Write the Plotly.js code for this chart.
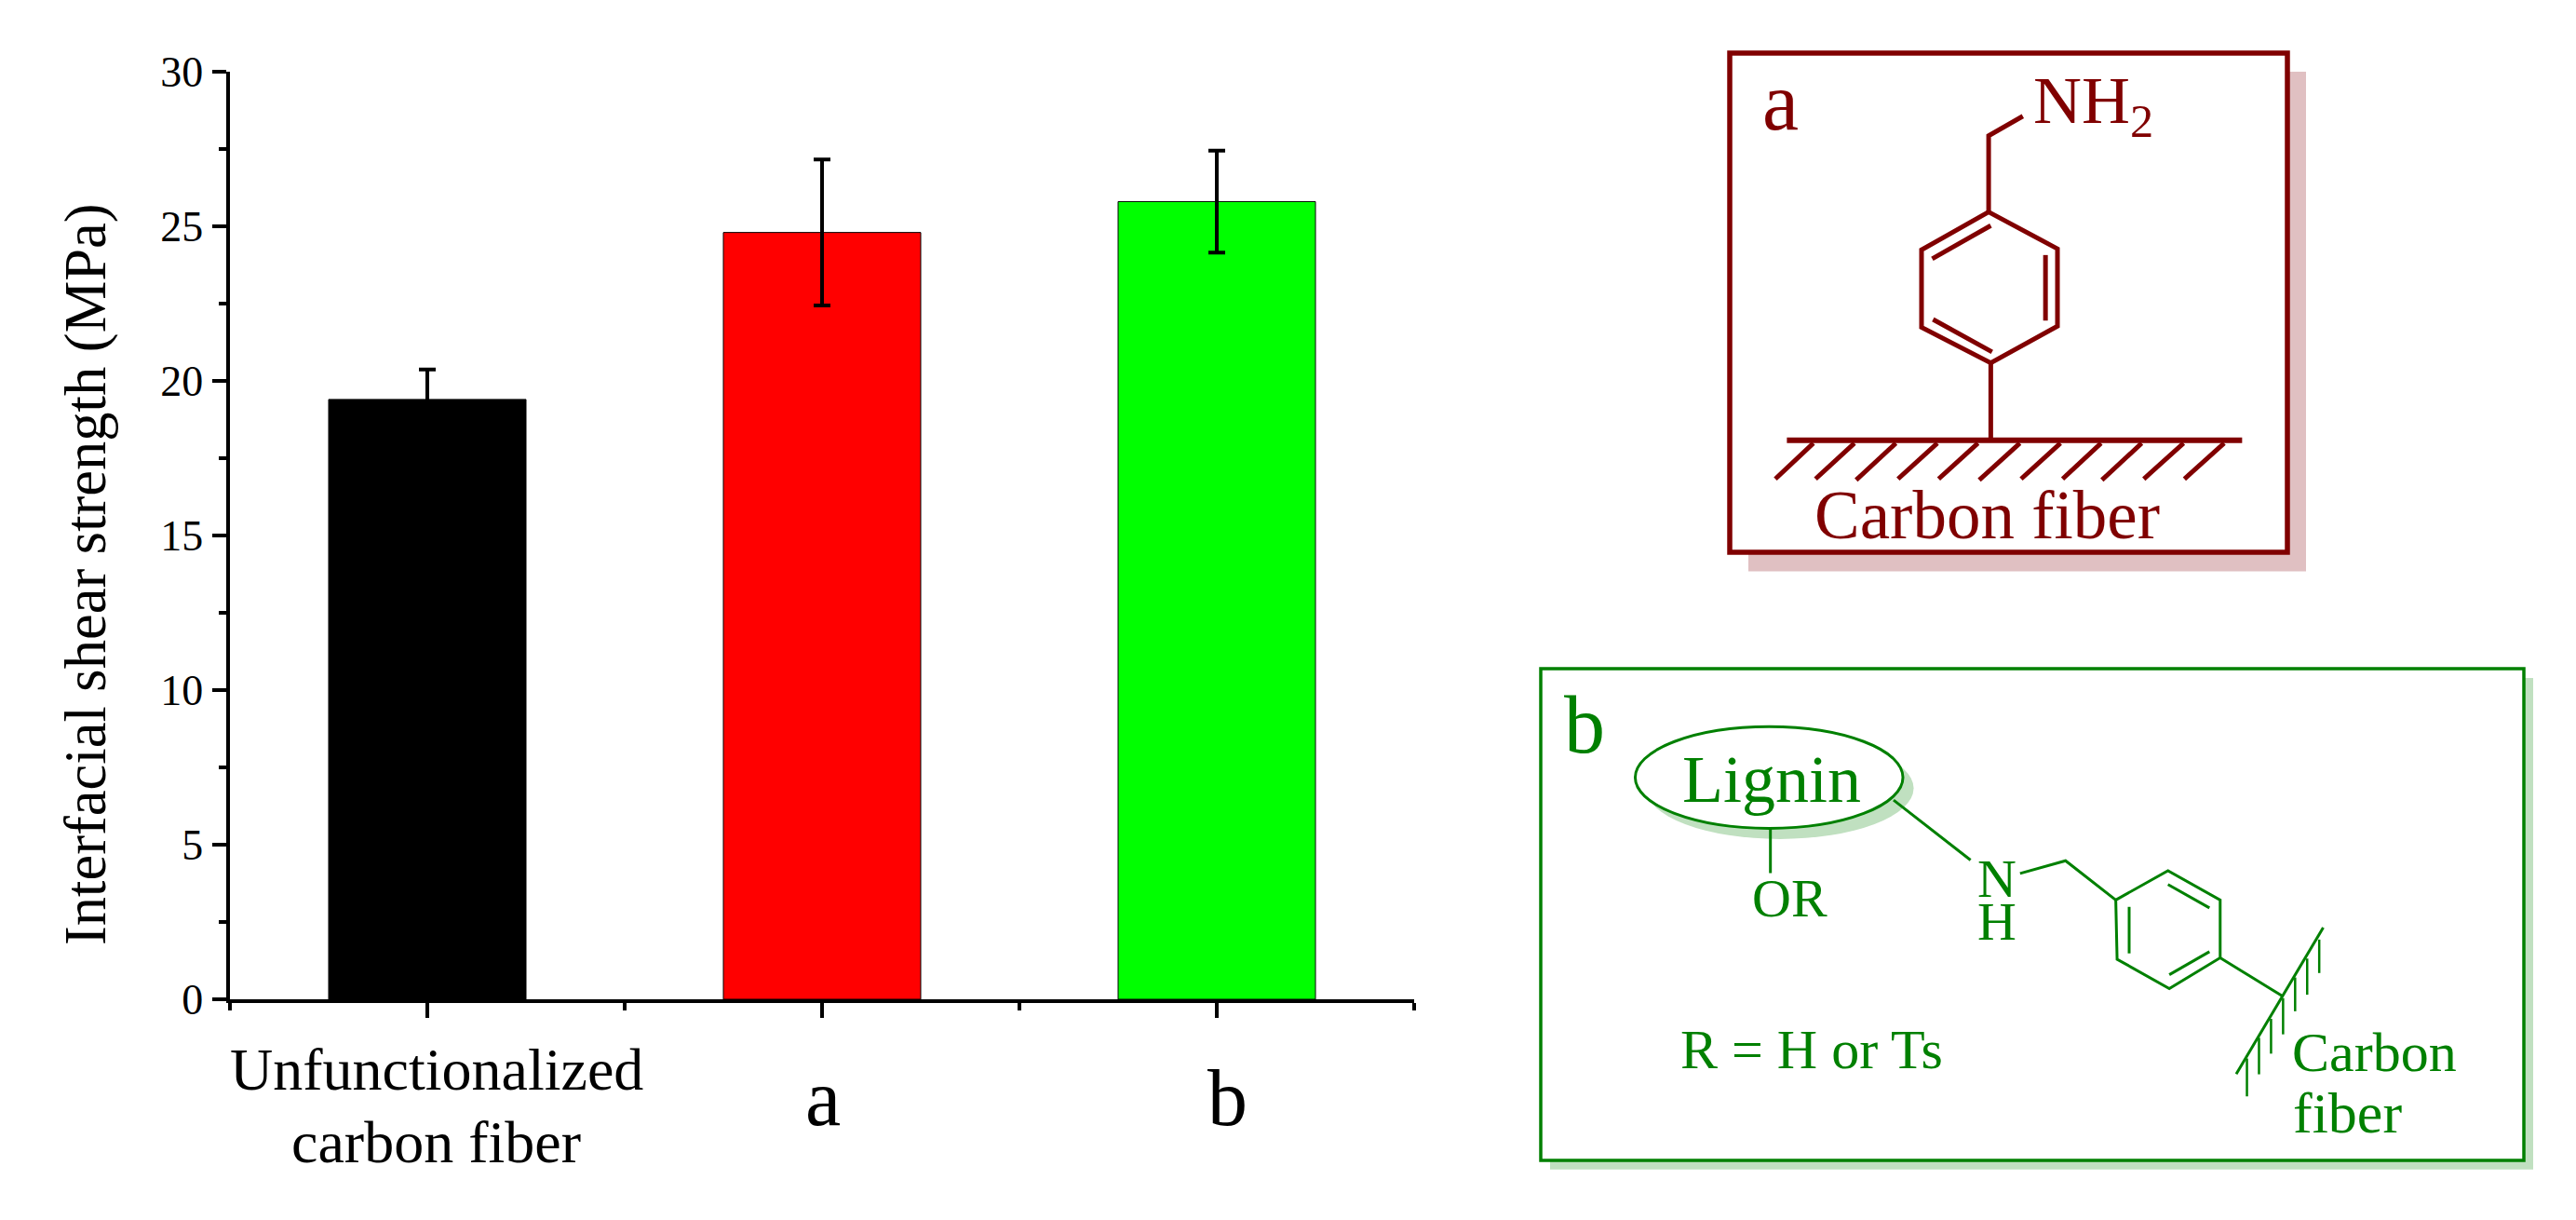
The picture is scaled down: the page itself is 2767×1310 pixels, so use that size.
<!DOCTYPE html>
<html><head><meta charset="utf-8">
<script src="https://cdn.plot.ly/plotly-3.0.1.min.js"></script>
<style>html,body{margin:0;padding:0;background:#fff;overflow:hidden}#c{width:2767px;height:1310px}</style>
</head><body><div id="c"></div>
<script>
const categories=[1,2,3];
const values=[19.4,24.8,25.8];
const errors=[0.97,2.36,1.65];
const barColors=['#000000','#ff0000','#00ff00'];
const yTicks=[0,5,10,15,20,25,30];
const W=2767,H=1310,FONT='"Liberation Serif"';
const RED='#800000',REDS='#e0c0c2',GRN='#008000',GRNS='#c0e0c0';
const fx=p=>p/W, fy=p=>1-p/H;
const shapes=[];
function rect(x0,y0,x1,y1,fill,line,w){shapes.push({type:'rect',xref:'paper',yref:'paper',x0:fx(x0),x1:fx(x1),y0:fy(y0),y1:fy(y1),fillcolor:fill,line:{color:line||fill,width:w||0}});}
function oval(x0,y0,x1,y1,fill,line,w){shapes.push({type:'circle',xref:'paper',yref:'paper',x0:fx(x0),x1:fx(x1),y0:fy(y0),y1:fy(y1),fillcolor:fill,line:{color:line||fill,width:w||0}});}
function poly(pts,color,w,close){const d=pts.map((p,i)=>(i?'L':'M')+fx(p[0])+','+fy(p[1])).join(' ')+(close?' Z':'');shapes.push({type:'path',xref:'paper',yref:'paper',path:d,line:{color:color,width:w}});}
// panel a, sketch coordinates
const ax=x=>1800+x/2.178, ay=y=>20+y/2.529, A=p=>[ax(p[0]),ay(p[1])];
rect(1878,77,2477,613.5,REDS);
rect(1858,57,2457,593,'#ffffff',RED,5.5);
const aLines=[[[812,265],[732,318],[732,525]],[[737,562],[600,652]],[[865,642],[865,820]],[[602,817],[740,905]],[[737,935],[737,1140]]];
const aRing=[[732,525],[893,625],[893,835],[737,935],[575,838],[575,628]];
const aHatch=[[322,233,1250],[418,327,1250],[515,422,1253],[612,520,1250],[707,615,1250],[805,710,1253],[900,808,1250],[995,905,1250],[1090,997,1253],[1188,1095,1250],[1283,1190,1250]];
aLines.forEach(l=>poly(l.map(A),RED,5));
poly(aRing.map(A),RED,5,true);
poly([[260,1145],[1325,1145]].map(A),RED,6);
aHatch.forEach(h=>poly([[h[0],1153],[h[1],h[2]]].map(A),RED,5));
// panel b, sketch coordinates
const bx=x=>1640+x/1.391, by=y=>700+y/2.703, B=p=>[bx(p[0]),by(p[1])];
rect(1665,728,2721,1255.7,GRNS);
rect(1655,718,2711,1246,'#ffffff',GRN,3.5);
oval(bx(178),by(248),bx(578),by(543),GRNS);
oval(bx(162),by(217),bx(562),by(512),'#ffffff',GRN,3);
const bLines=[[[364,512],[364,642]],[[548,430],[663,604]],[[737,643],[805,606],[880,720]],[[958,675],[1020,743]],[[900,740],[900,875]],[[960,937],[1020,870]],[[1036,888],[1130,1000]],[[1190,800],[1060,1225]]];
const bRing=[[880,720],[958,635],[1036,720],[1036,888],[960,977],[882,892]];
const bHatch=[[1184,835,932],[1166,890,995],[1148,945,1043],[1130,1005,1110],[1112,1065,1166],[1094,1120,1226],[1076,1180,1290]];
bLines.forEach(l=>poly(l.map(B),GRN,3));
poly(bRing.map(B),GRN,3,true);
bHatch.forEach(h=>poly([[h[0],h[1]],[h[0],h[2]]].map(B),GRN,2.5));
// free text: [text, centre x, baseline y, size, colour]
const texts=[
 ['a',1912,139,88,RED],['NH<sub>2</sub>',2248,137,72,RED],['Carbon fiber',2134,578.5,73,RED],
 ['b',1702,808,88,GRN],['Lignin',bx(366),861.7,72,GRN],['OR',bx(393),983.8,58,GRN],
 ['N',bx(703),963,58,GRN],['H',bx(703),1009,58,GRN],['R = H or Ts',bx(426),1147.6,60,GRN],
 ['Carbon',bx(1266),1150.6,60,GRN],['fiber',bx(1226),1216,62,GRN]
];
const annotations=texts.map(t=>({xref:'paper',yref:'paper',x:fx(t[1]),y:fy(t[2]-0.3375*t[3]),xanchor:'center',yanchor:'middle',showarrow:false,text:t[0],font:{family:FONT,size:t[3],color:t[4]},borderpad:0}));
annotations.push({xref:'paper',yref:'paper',x:fx(92),y:fy(617),textangle:-90,xanchor:'center',yanchor:'middle',showarrow:false,text:'Interfacial shear strength (MPa)',font:{family:FONT,size:62.5,color:'#000'}});
// category labels: [text, category, x shift, baseline y, size]
const xLabels=[['Unfunctionalized',1,10,1170,64],['carbon fiber',1,9,1248,64],['a',2,1,1208,86],['b',3,11,1208,86]];
xLabels.forEach(l=>annotations.push({xref:'x',yref:'paper',x:l[1],xshift:l[2],y:fy(l[3]-0.3375*l[4]),xanchor:'center',yanchor:'middle',showarrow:false,text:l[0],font:{family:FONT,size:l[4],color:'#000'},borderpad:0}));
Plotly.newPlot('c',[{type:'bar',x:categories,y:values,width:0.5,marker:{color:barColors,line:{color:'#000',width:1}},
 error_y:{type:'data',array:errors,visible:true,color:'#000',thickness:4,width:9}}],{
 width:W,height:H,margin:{l:0,r:0,t:0,b:0},paper_bgcolor:'#fff',plot_bgcolor:'rgba(0,0,0,0)',showlegend:false,
 font:{family:FONT,color:'#000'},
 xaxis:{domain:[247/W,1519/W],range:[0.5,3.5],tickvals:categories,showticklabels:false,ticks:'outside',ticklen:15.5,tickwidth:3.5,tickcolor:'#000',showline:true,linecolor:'#000',linewidth:4,showgrid:false,zeroline:false,
  minor:{tickvals:[0.5,1.5,2.5,3.5],ticks:'outside',ticklen:8,tickwidth:3.5,tickcolor:'#000',showgrid:false}},
 yaxis:{domain:[1-1073/H,1-77/H],range:[0,30],tickvals:yTicks,ticks:'outside',ticklen:15.5,tickwidth:3.5,tickcolor:'#000',ticklabelstandoff:0,tickfont:{family:FONT,size:46,color:'#000'},showline:true,linecolor:'#000',linewidth:4,showgrid:false,zeroline:false,
  minor:{dtick:2.5,ticks:'outside',ticklen:8,tickwidth:3.5,tickcolor:'#000',showgrid:false}},
 shapes:shapes,annotations:annotations
},{displayModeBar:false,staticPlot:true});
</script></body></html>
